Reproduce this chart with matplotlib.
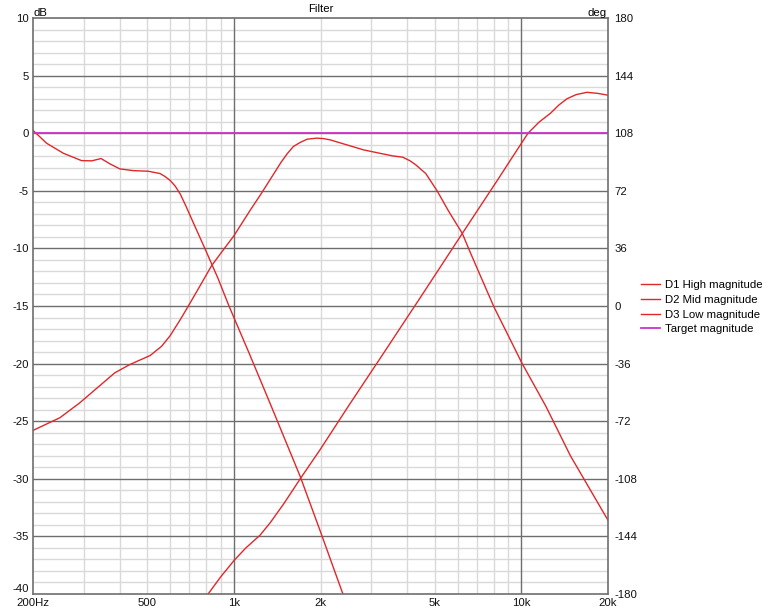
import matplotlib
matplotlib.use("Agg")
import matplotlib.pyplot as plt
from matplotlib.ticker import FixedLocator, NullFormatter

plt.rcParams['font.family'] = ['Liberation Sans', 'DejaVu Sans']

# ---- data ----
d3_freq = [200, 223, 255, 295, 320, 345, 371, 401, 447, 503, 553, 575, 600, 625,
           651, 680, 720, 792, 880, 961, 1125, 1338, 1700, 2000, 2393, 2500]
d3_db = [0.25, -0.87, -1.74, -2.38, -2.4, -2.2, -2.67, -3.1, -3.25, -3.3, -3.5,
         -3.75, -4.1, -4.6, -5.3, -6.3, -7.7, -10.0, -12.6, -15.0, -19.0,
         -23.5, -29.8, -34.6, -40.0, -41.3]

d2_freq = [200, 248, 291, 342, 385, 433, 470, 511, 560, 599, 650, 694, 760, 836,
           920, 1000, 1138, 1240, 1338, 1456, 1530, 1610, 1700, 1797, 1940,
           2050, 2163, 2459, 2826, 3214, 3567, 3860, 4100, 4291, 4646, 5088,
           5590, 6227, 6650, 7146, 8029, 9051, 10034, 12157, 14800, 20000]
d2_db = [-25.8, -24.7, -23.4, -21.9, -20.8, -20.1, -19.7, -19.3, -18.5, -17.6,
         -16.2, -15.0, -13.3, -11.5, -10.1, -8.9, -6.7, -5.3, -4.0, -2.55,
         -1.8, -1.15, -0.8, -0.52, -0.43, -0.47, -0.58, -1.0, -1.45, -1.74,
         -1.97, -2.08, -2.4, -2.75, -3.5, -5.0, -6.8, -8.7, -10.4, -12.2,
         -15.1, -17.7, -19.95, -23.7, -28.0, -33.6]

d1_freq = [780, 813, 900, 1000, 1100, 1232, 1338, 1487, 1610, 1700, 1990, 2530,
           3214, 4413, 6227, 8260, 9120, 10540, 11500, 12640, 13500, 14420,
           15500, 16900, 18500, 20000]
d1_db = [-41.0, -40.0, -38.5, -37.1, -36.0, -34.9, -33.8, -32.2, -30.9, -30.0,
         -27.5, -23.5, -19.6, -14.4, -8.7, -4.06, -2.4, 0.0, 0.95, 1.75, 2.45,
         3.0, 3.35, 3.55, 3.45, 3.3]

target_freq = [200, 20000]
target_db = [0, 0]

x_tick_vals = [200, 500, 1000, 2000, 5000, 10000, 20000]
x_tick_labels = ['200Hz', '500', '1k', '2k', '5k', '10k', '20k']
x_minor_grid = [300, 400, 500, 600, 700, 800, 900,
                2000, 3000, 4000, 5000, 6000, 7000, 8000, 9000]
x_major_grid = [1000, 10000]
y_ticks = [10, 5, 0, -5, -10, -15, -20, -25, -30, -35, -40]
deg_ticks = [180, 144, 108, 72, 36, 0, -36, -72, -108, -144, -180]

red = '#e0282a'
magenta = '#cc33cc'
light = '#d9d9d9'
dark = '#6e6e6e'
fs = 8.2

fig = plt.figure(figsize=(7.68, 6.12), dpi=100)
ax = fig.add_axes([33/768, 1 - 594/612, (608-33)/768, (594-18)/612])
ax.set_xscale('log')
ax.set_xlim(200, 20000)
ax.set_ylim(-40, 10)

# grid
for v in range(-40, 11):
    if v % 5 == 0:
        continue
    ax.axhline(v, color=light, lw=1, zorder=0)
for v in x_minor_grid:
    ax.axvline(v, color=light, lw=1, zorder=0)
for v in y_ticks[1:-1]:
    ax.axhline(v, color=dark, lw=1, zorder=0.5)
for v in x_major_grid:
    ax.axvline(v, color=dark, lw=1, zorder=0.5)

l1, = ax.plot(d1_freq, d1_db, color=red, lw=1, label='D1 High magnitude')
l2, = ax.plot(d2_freq, d2_db, color=red, lw=1, label='D2 Mid magnitude')
l3, = ax.plot(d3_freq, d3_db, color=red, lw=1, label='D3 Low magnitude')
l4, = ax.plot(target_freq, target_db, color=magenta, lw=1.3, label='Target magnitude')

ax.xaxis.set_major_locator(FixedLocator(x_tick_vals))
ax.set_xticklabels(x_tick_labels)
ax.xaxis.set_minor_locator(FixedLocator([]))
ax.xaxis.set_minor_formatter(NullFormatter())
ax.set_yticks(y_ticks)
ax.set_yticklabels([str(v) for v in y_ticks])
ax.tick_params(length=0, pad=3, labelsize=fs, colors='#111111')
ax.get_yticklabels()[-1].set_va('bottom')

for s in ax.spines.values():
    s.set_color(dark)
    s.set_linewidth(1.2)

ax2 = ax.twinx()
ax2.set_ylim(-180, 180)
ax2.set_yticks(deg_ticks)
ax2.set_yticklabels([str(v) for v in deg_ticks])
ax2.tick_params(length=0, pad=4.5, labelsize=fs, colors='#111111')
for s in ax2.spines.values():
    s.set_visible(False)

ax.text(0.001, 1.0, 'dB', transform=ax.transAxes, ha='left', va='bottom', fontsize=fs)
ax.text(0.997, 1.0, 'deg', transform=ax.transAxes, ha='right', va='bottom', fontsize=fs)
ax.set_title('Filter', fontsize=fs, pad=4)

fig.legend(handles=[l1, l2, l3, l4], loc='upper left',
           bbox_to_anchor=(641/768, 1 - 280/612), frameon=False,
           fontsize=fs, handlelength=1.7, handletextpad=0.4,
           labelspacing=0.42, borderpad=0, borderaxespad=0)

fig.savefig('out.png', dpi=100)
